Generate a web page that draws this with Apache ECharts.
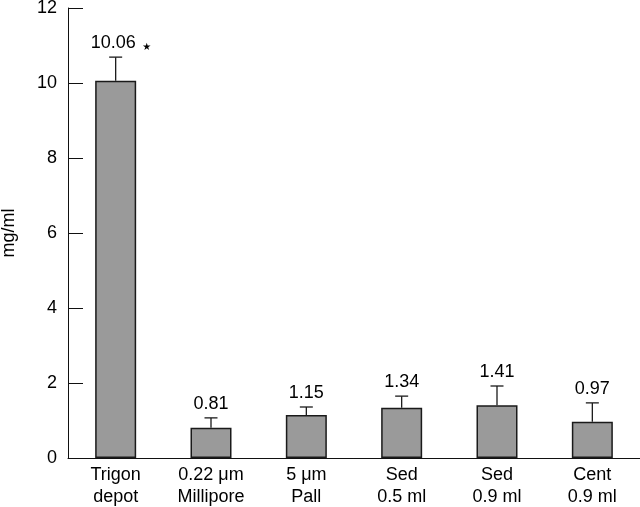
<!DOCTYPE html>
<html>
<head>
<meta charset="utf-8">
<script src="https://cdn.jsdelivr.net/npm/echarts@6/dist/echarts.min.js"></script>
<style>html,body{margin:0;padding:0;background:#fff}#c{width:640px;height:507px}</style>
</head>
<body>
<div id="c"></div>
<script>
var categories = ['Trigon\ndepot', '0.22 \u03bcm\nMillipore', '5 \u03bcm\nPall', 'Sed\n0.5 ml', 'Sed\n0.9 ml', 'Cent\n0.9 ml'];
var means = [10.06, 0.81, 1.15, 1.34, 1.41, 0.97];
var errors = [0.63, 0.26, 0.21, 0.31, 0.51, 0.50];
var valueLabels = ['10.06', '0.81', '1.15', '1.34', '1.41', '0.97'];
var marks = ['\u2605', '', '', '', '', ''];
var yTicks = [0, 2, 4, 6, 8, 10, 12];

var FONT = 'Liberation Sans, Arial, Helvetica, sans-serif';
var chart = echarts.init(document.getElementById('c'));
var errData = means.map(function (m, i) { return [i, m, m + errors[i]]; });

chart.setOption({
  animation: false,
  grid: { left: 68, right: 0, top: 8, bottom: 49, containLabel: false, outerBoundsMode: 'none' },
  xAxis: {
    type: 'category',
    data: categories,
    axisLine: { lineStyle: { color: '#111', width: 1 } },
    axisTick: { inside: true, length: 15, lineStyle: { color: '#111', width: 1 } },
    axisLabel: { color: '#000', fontFamily: FONT, fontSize: 18, lineHeight: 22, margin: 6 }
  },
  yAxis: {
    type: 'value',
    min: yTicks[0], max: yTicks[yTicks.length - 1], interval: 2,
    name: 'mg/ml', nameLocation: 'middle', nameGap: 50,
    nameTextStyle: { color: '#000', fontFamily: FONT, fontSize: 18 },
    axisLine: { show: true, lineStyle: { color: '#111', width: 1 } },
    axisTick: { show: true, inside: true, length: 15, lineStyle: { color: '#111', width: 1 } },
    axisLabel: { color: '#000', fontFamily: FONT, fontSize: 18, margin: 11 },
    splitLine: { show: false }
  },
  series: [
    {
      type: 'bar',
      data: means,
      barWidth: 41,
      itemStyle: { color: '#9a9a9a', borderColor: '#1a1a1a', borderWidth: 1.5 },
      z: 2
    },
    {
      type: 'custom',
      data: errData,
      z: 3,
      renderItem: function (params, api) {
        var i = api.value(0);
        var base = api.coord([i, api.value(1)]);
        var top = api.coord([i, api.value(2)]);
        var x = base[0];
        var label = valueLabels[params.dataIndex];
        var mark = marks[params.dataIndex];
        var children = [
          { type: 'line', shape: { x1: x, y1: base[1], x2: x, y2: top[1] }, style: { stroke: '#1a1a1a', lineWidth: 1.3 } },
          { type: 'line', shape: { x1: x - 6.5, y1: top[1], x2: x + 6.5, y2: top[1] }, style: { stroke: '#1a1a1a', lineWidth: 1.3 } },
          { type: 'text', x: x - (mark ? 2.5 : 0), y: top[1] - 14, style: { text: label, fill: '#000', font: '18px ' + FONT, align: 'center', verticalAlign: 'middle' } }
        ];
        if (mark) {
          children.push({ type: 'text', x: x + 31, y: top[1] - 10, style: { text: mark, fill: '#000', font: '10px DejaVu Sans', align: 'center', verticalAlign: 'middle' } });
        }
        return { type: 'group', children: children };
      }
    }
  ]
});
</script>
</body>
</html>
